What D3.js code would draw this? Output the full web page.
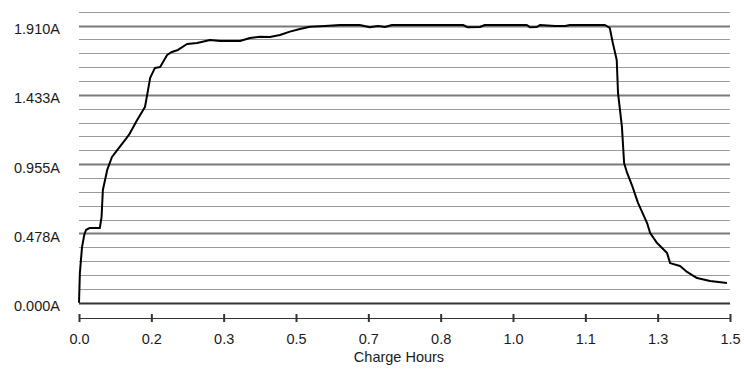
<!DOCTYPE html>
<html>
<head>
<meta charset="utf-8">
<script src="https://cdn.jsdelivr.net/npm/d3@7"></script>
<style>
  html, body { margin: 0; padding: 0; background: #ffffff; }
  svg { display: block; }
  text { font-family: "Liberation Sans", Arial, sans-serif; fill: #1a1a1a; }
</style>
</head>
<body>
<svg id="chart" width="744" height="371"></svg>
<script>
// ---- data ----
const chargeHours = [0.000, 0.001, 0.002, 0.007, 0.012, 0.016, 0.025, 0.048, 0.052, 0.055, 0.065, 0.076, 0.088, 0.101, 0.115, 0.134, 0.152, 0.157, 0.164, 0.175, 0.187, 0.203, 0.214, 0.228, 0.249, 0.272, 0.302, 0.325, 0.371, 0.394, 0.417, 0.440, 0.463, 0.486, 0.509, 0.532, 0.567, 0.601, 0.647, 0.670, 0.689, 0.705, 0.721, 0.786, 0.885, 0.896, 0.924, 0.935, 1.032, 1.039, 1.055, 1.062, 1.097, 1.120, 1.131, 1.212, 1.223, 1.230, 1.239, 1.242, 1.251, 1.256, 1.263, 1.274, 1.288, 1.309, 1.316, 1.332, 1.355, 1.362, 1.385, 1.401, 1.424, 1.454, 1.493];
const currentAmps = [0.000, 0.101, 0.205, 0.384, 0.466, 0.501, 0.515, 0.515, 0.591, 0.777, 0.915, 1.004, 1.052, 1.101, 1.156, 1.259, 1.349, 1.431, 1.549, 1.618, 1.625, 1.707, 1.728, 1.742, 1.783, 1.790, 1.811, 1.804, 1.804, 1.824, 1.833, 1.831, 1.845, 1.868, 1.886, 1.902, 1.907, 1.914, 1.914, 1.898, 1.907, 1.900, 1.914, 1.914, 1.914, 1.898, 1.900, 1.914, 1.914, 1.898, 1.900, 1.914, 1.907, 1.907, 1.914, 1.914, 1.893, 1.790, 1.673, 1.445, 1.211, 0.963, 0.894, 0.811, 0.688, 0.549, 0.480, 0.411, 0.342, 0.273, 0.253, 0.212, 0.170, 0.150, 0.136];
const xTickValues = [0, 1/6, 2/6, 3/6, 4/6, 5/6, 1, 7/6, 8/6, 1.5];
const xTickLabels = ["0.0", "0.2", "0.3", "0.5", "0.7", "0.8", "1.0", "1.1", "1.3", "1.5"];
const yMajorValues = [0, 0.4775, 0.955, 1.4325, 1.910];
const yMajorLabels = ["0.000A", "0.478A", "0.955A", "1.433A", "1.910A"];
const yGridStep = 0.0955;
const yGridCount = 21;
const xTitle = "Charge Hours";

// ---- layout ----
const svg = d3.select("#chart");
const pLeft = 79, pRight = 730, pTop = 11.7, pBottom = 302.7;
const x = d3.scaleLinear().domain([0, 1.5]).range([pLeft, pRight]);
const y = d3.scaleLinear().domain([0, yGridStep * yGridCount]).range([pBottom, pTop]);

// grid lines
const gridVals = d3.range(0, yGridCount + 1).map(i => i * yGridStep);
svg.append("g").selectAll("line").data(gridVals).join("line")
  .attr("x1", pLeft).attr("x2", pRight)
  .attr("y1", d => Math.round(y(d)) + 0.5).attr("y2", d => Math.round(y(d)) + 0.5)
  .attr("stroke", (d, i) => i === 0 ? "#333333" : (i % 5 === 0 ? "#7a7a7a" : "#9a9a9a"))
  .attr("stroke-width", (d, i) => i === 0 ? 2 : (i % 5 === 0 ? 2 : 1));

// y labels
const yAxis = d3.axisLeft(y).tickValues(yMajorValues)
  .tickFormat((d, i) => yMajorLabels[i]).tickSize(0).tickPadding(19);
const gy = svg.append("g").attr("transform", `translate(${pLeft},0)`).call(yAxis);
gy.select(".domain").remove();
gy.selectAll("text").attr("font-size", 14.5).attr("fill", "#1a1a1a")
  .attr("font-family", "'Liberation Sans', Arial, sans-serif")
  .attr("dy", "0.55em");

// x axis
const xAxis = d3.axisBottom(x).tickValues(xTickValues)
  .tickFormat((d, i) => xTickLabels[i]).tickSize(4).tickSizeOuter(0).tickPadding(12);
const gx = svg.append("g").attr("transform", `translate(0,318)`).call(xAxis);
gx.select(".domain").attr("stroke", "#333").attr("d", `M${pLeft},0.5H${pRight}`);
gx.selectAll(".tick line").attr("stroke", "#333").attr("stroke-width", 2)
  .attr("y1", -4).attr("y2", 4);
gx.selectAll("text").attr("font-size", 14.5).attr("fill", "#1a1a1a")
  .attr("font-family", "'Liberation Sans', Arial, sans-serif");

// axis title
svg.append("text").attr("x", 399).attr("y", 362).attr("text-anchor", "middle")
  .attr("font-size", 14.5).text(xTitle);

// data line
const pts = chargeHours.map((h, i) => [h, currentAmps[i]]);
svg.append("path").datum(pts)
  .attr("fill", "none").attr("stroke", "#000").attr("stroke-width", 2)
  .attr("stroke-linejoin", "round")
  .attr("d", d3.line().x(d => x(d[0])).y(d => y(d[1])));
</script>
</body>
</html>
